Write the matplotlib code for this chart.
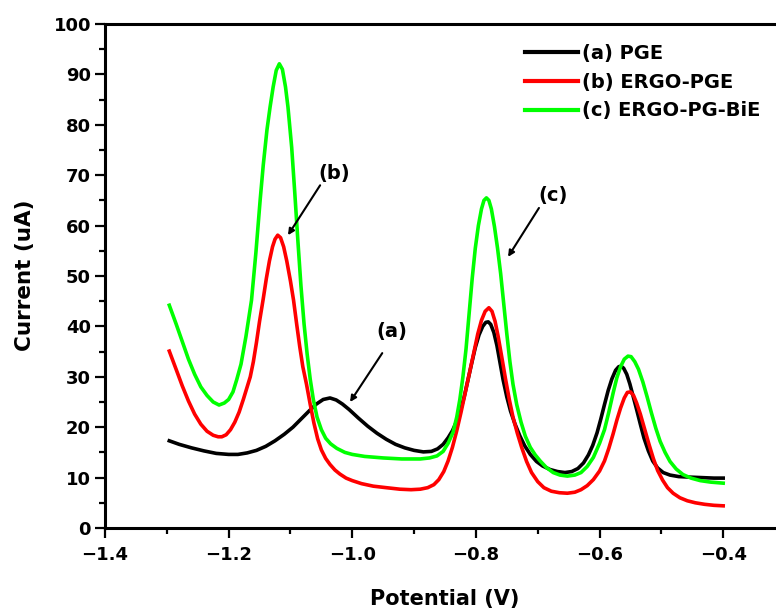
import matplotlib
matplotlib.use("Agg")
import matplotlib.pyplot as plt

# potential (V) and current (uA)
pge_v = [-1.296, -1.28, -1.26, -1.24, -1.22, -1.2, -1.185, -1.17, -1.155, -1.14,
         -1.125, -1.11, -1.096, -1.083, -1.07, -1.058, -1.047, -1.036, -1.026, -1.016,
         -1.005, -0.99, -0.975, -0.96, -0.945, -0.93, -0.915, -0.9, -0.885, -0.872,
         -0.862, -0.853, -0.845, -0.838, -0.831, -0.825, -0.819, -0.813, -0.807, -0.801,
         -0.795, -0.789, -0.784, -0.78, -0.776, -0.771, -0.766, -0.761, -0.756, -0.75,
         -0.744, -0.737, -0.729, -0.721, -0.712, -0.702, -0.692, -0.68, -0.668, -0.656,
         -0.645, -0.635, -0.626, -0.618, -0.611, -0.604, -0.598, -0.592, -0.586, -0.58,
         -0.574, -0.569, -0.565, -0.561, -0.556, -0.551, -0.546, -0.54, -0.534, -0.528,
         -0.521, -0.514, -0.506, -0.497, -0.486, -0.472, -0.455, -0.435, -0.415, -0.4]
pge_i = [17.3, 16.6, 15.9, 15.3, 14.8, 14.6, 14.6, 14.9, 15.4, 16.2,
         17.3, 18.6, 20.0, 21.6, 23.2, 24.6, 25.5, 25.8, 25.4, 24.6,
         23.5, 21.8, 20.2, 18.8, 17.6, 16.6, 15.9, 15.4, 15.1, 15.2,
         15.7, 16.6, 17.9, 19.3, 21.2, 23.3, 26.0, 29.3, 32.6, 35.8,
         38.3, 40.0, 40.8, 40.9, 40.4, 38.8, 36.2, 32.8, 29.4, 26.0,
         23.2, 20.7, 18.3, 16.3, 14.6, 13.2, 12.3, 11.6, 11.2, 11.0,
         11.2, 11.8, 12.9, 14.5, 16.4, 18.9, 21.6, 24.5, 27.3, 29.6,
         31.3, 32.0, 32.1, 31.7, 30.5, 28.6, 26.3, 23.5, 20.6, 17.8,
         15.3, 13.3, 11.9, 11.0, 10.5, 10.2, 10.1, 10.0, 9.9, 9.9]

ergo_v = [-1.296, -1.285, -1.275, -1.265, -1.255, -1.245, -1.235, -1.225, -1.217, -1.211,
          -1.204, -1.197, -1.19, -1.183, -1.176, -1.17, -1.165, -1.16, -1.155, -1.15,
          -1.144, -1.139, -1.134, -1.129, -1.125, -1.1206, -1.116, -1.111, -1.106, -1.1,
          -1.095, -1.09, -1.085, -1.08, -1.074, -1.068, -1.062, -1.056, -1.05, -1.043,
          -1.036, -1.028, -1.02, -1.01, -1.0, -0.985, -0.966, -0.945, -0.923, -0.905,
          -0.89, -0.878, -0.868, -0.86, -0.852, -0.845, -0.838, -0.831, -0.824, -0.817,
          -0.81, -0.803, -0.797, -0.791, -0.785, -0.779, -0.774, -0.769, -0.764, -0.758,
          -0.752, -0.746, -0.74, -0.733, -0.726, -0.718, -0.71, -0.7, -0.69, -0.678,
          -0.665, -0.652, -0.64, -0.63, -0.62, -0.61, -0.6, -0.592, -0.585, -0.578,
          -0.572, -0.566, -0.56, -0.555, -0.55, -0.545, -0.54, -0.534, -0.527, -0.52,
          -0.513, -0.506, -0.498, -0.49, -0.481, -0.47, -0.458, -0.445, -0.43, -0.415, -0.4]
ergo_i = [35.1, 31.5, 28.2, 25.2, 22.6, 20.6, 19.2, 18.4, 18.1, 18.1,
          18.5, 19.5, 21.0, 23.0, 25.6, 28.0, 30.0, 33.0, 36.8, 41.0,
          45.5, 49.5, 53.0, 55.8, 57.3, 58.1, 57.6, 55.8, 53.0, 49.0,
          45.2, 40.5, 36.0, 32.0, 28.5, 24.5, 20.8, 17.7, 15.5, 13.8,
          12.6, 11.5, 10.7, 9.9, 9.4, 8.8, 8.3, 8.0, 7.7, 7.6,
          7.7, 8.0, 8.6, 9.6, 11.2, 13.3, 16.0, 19.3, 23.0, 27.0,
          31.0, 35.0, 38.5, 41.2, 43.0, 43.7, 43.0, 41.0, 38.0, 33.8,
          29.5, 25.5, 22.0, 18.8, 16.0, 13.2, 11.0, 9.2, 8.0, 7.3,
          7.0, 6.9, 7.1, 7.6, 8.4, 9.6, 11.3, 13.3, 15.8, 18.7,
          21.4, 23.8, 25.8, 26.9, 27.0, 26.3, 24.8, 22.6, 19.6, 16.6,
          13.8, 11.4, 9.5, 8.0, 6.9, 6.0, 5.4, 5.0, 4.7, 4.5, 4.4]

bie_v = [-1.296, -1.285, -1.275, -1.265, -1.255, -1.245, -1.235, -1.225, -1.2155, -1.207,
         -1.2, -1.193, -1.187, -1.18, -1.172, -1.163, -1.156, -1.149, -1.144, -1.138,
         -1.133, -1.128, -1.123, -1.118, -1.113, -1.108, -1.104, -1.098, -1.093, -1.088,
         -1.083, -1.078, -1.073, -1.068, -1.063, -1.057, -1.05, -1.043, -1.035, -1.025,
         -1.012, -1.0, -0.98, -0.95, -0.92, -0.89, -0.875, -0.863, -0.853, -0.845,
         -0.837, -0.831, -0.826, -0.821, -0.816, -0.811, -0.806, -0.801, -0.796, -0.791,
         -0.787, -0.783, -0.779, -0.775, -0.77, -0.765, -0.76, -0.755, -0.75, -0.745,
         -0.74, -0.734, -0.727, -0.72, -0.712, -0.704, -0.696, -0.686, -0.675, -0.664,
         -0.652, -0.64, -0.63, -0.62, -0.61, -0.6, -0.592, -0.585, -0.578, -0.572,
         -0.566, -0.56, -0.554, -0.549, -0.543, -0.537, -0.53, -0.523, -0.516, -0.509,
         -0.502, -0.494, -0.486, -0.476, -0.465, -0.452, -0.437, -0.42, -0.4]
bie_i = [44.2, 40.5, 37.0, 33.5, 30.5, 28.0, 26.3, 25.0, 24.4, 24.8,
         25.5, 27.0, 29.4, 32.5, 38.0, 45.2, 54.5, 65.1, 72.0, 79.0,
         83.5, 87.5, 90.8, 92.1, 91.0, 87.5, 83.5, 75.5, 66.5, 57.0,
         48.0, 40.5, 34.5, 29.5, 25.5, 22.0, 19.5, 17.8, 16.7, 15.8,
         15.0, 14.6, 14.2, 13.9, 13.7, 13.7, 13.9, 14.3, 15.2, 16.8,
         19.0, 22.0, 25.5, 30.0, 35.5, 42.5, 49.5, 55.5, 60.0, 63.3,
         65.0, 65.5, 65.0, 63.3, 59.8, 55.5, 50.5, 44.5, 38.5, 33.0,
         28.5, 24.5, 21.0, 18.2, 16.0, 14.5, 13.3, 12.0, 11.0, 10.5,
         10.3, 10.5, 11.0, 12.2, 14.0, 16.8, 19.5, 23.0, 26.8, 29.8,
         32.0, 33.5, 34.1, 34.0, 33.0, 31.5, 29.0, 26.0, 22.8, 19.8,
         17.2, 15.0, 13.2, 11.7, 10.6, 9.9, 9.4, 9.1, 8.9]

labels = ["(a) PGE", "(b) ERGO-PGE", "(c) ERGO-PG-BiE"]
colors = ["black", "#ff0000", "#00ff00"]

plt.rcParams['font.family'] = ['DejaVu Sans']
plt.rcParams['font.weight'] = 'bold'

fig = plt.figure(figsize=(7.76, 6.11), dpi=100)
ax = fig.add_axes([105 / 776, 83 / 611, 680 / 776, 504 / 611])

ax.plot(pge_v, pge_i, color=colors[0], lw=2.6, label=labels[0])
ax.plot(ergo_v, ergo_i, color=colors[1], lw=2.6, label=labels[1])
ax.plot(bie_v, bie_i, color=colors[2], lw=2.6, label=labels[2])

ax.set_xlim(-1.4, -0.3)
ax.set_ylim(0, 100)
ax.set_xticks([-1.4, -1.2, -1.0, -0.8, -0.6, -0.4])
ax.set_xticks([-1.3, -1.1, -0.9, -0.7, -0.5], minor=True)
ax.set_yticks(range(0, 101, 10))
ax.set_yticks(range(5, 100, 10), minor=True)
ax.tick_params(which='major', length=7, width=1.6, labelsize=13)
ax.tick_params(which='minor', length=4, width=1.6)
ax.tick_params(axis='x', pad=6)
ax.tick_params(axis='y', pad=3)
for s in ax.spines.values():
    s.set_linewidth(2.2)

ax.set_xlabel("Potential (V)", fontsize=15, fontweight='bold')
ax.set_ylabel("Current (uA)", fontsize=15.5, fontweight='bold')
ax.xaxis.set_label_coords((445 - 105) / 680, -(589 - 528) / 504)
ax.yaxis.set_label_coords(-(105 - 35) / 680, (528 - 275) / 504)

# arrows pointing at the peaks
notes = [("(a)", (-1.0036, 25.0), (-0.9515, 34.7), (-0.936, 38.9)),
         ("(b)", (-1.104, 58.1), (-1.052, 68.0), (-1.0295, 70.4)),
         ("(c)", (-0.748, 53.8), (-0.698, 63.5), (-0.675, 66.0))]
for txt, head, tail, pos in notes:
    ax.annotate("", xy=head, xytext=tail,
                arrowprops=dict(arrowstyle='-|>', color='black', lw=1.5,
                                mutation_scale=9, shrinkA=0, shrinkB=0))
    ax.text(pos[0], pos[1], txt, fontsize=14, fontweight='bold',
            ha='center', va='center')

leg = ax.legend(loc='upper left', bbox_to_anchor=(525 / 776, 1 - 44 / 611),
                bbox_transform=fig.transFigure, frameon=False, fontsize=14,
                handlelength=2.7, handletextpad=0.25, labelspacing=0.5,
                borderpad=0, borderaxespad=0)
for line in leg.get_lines():
    line.set_linewidth(3)

fig.savefig("out.png", dpi=100)
